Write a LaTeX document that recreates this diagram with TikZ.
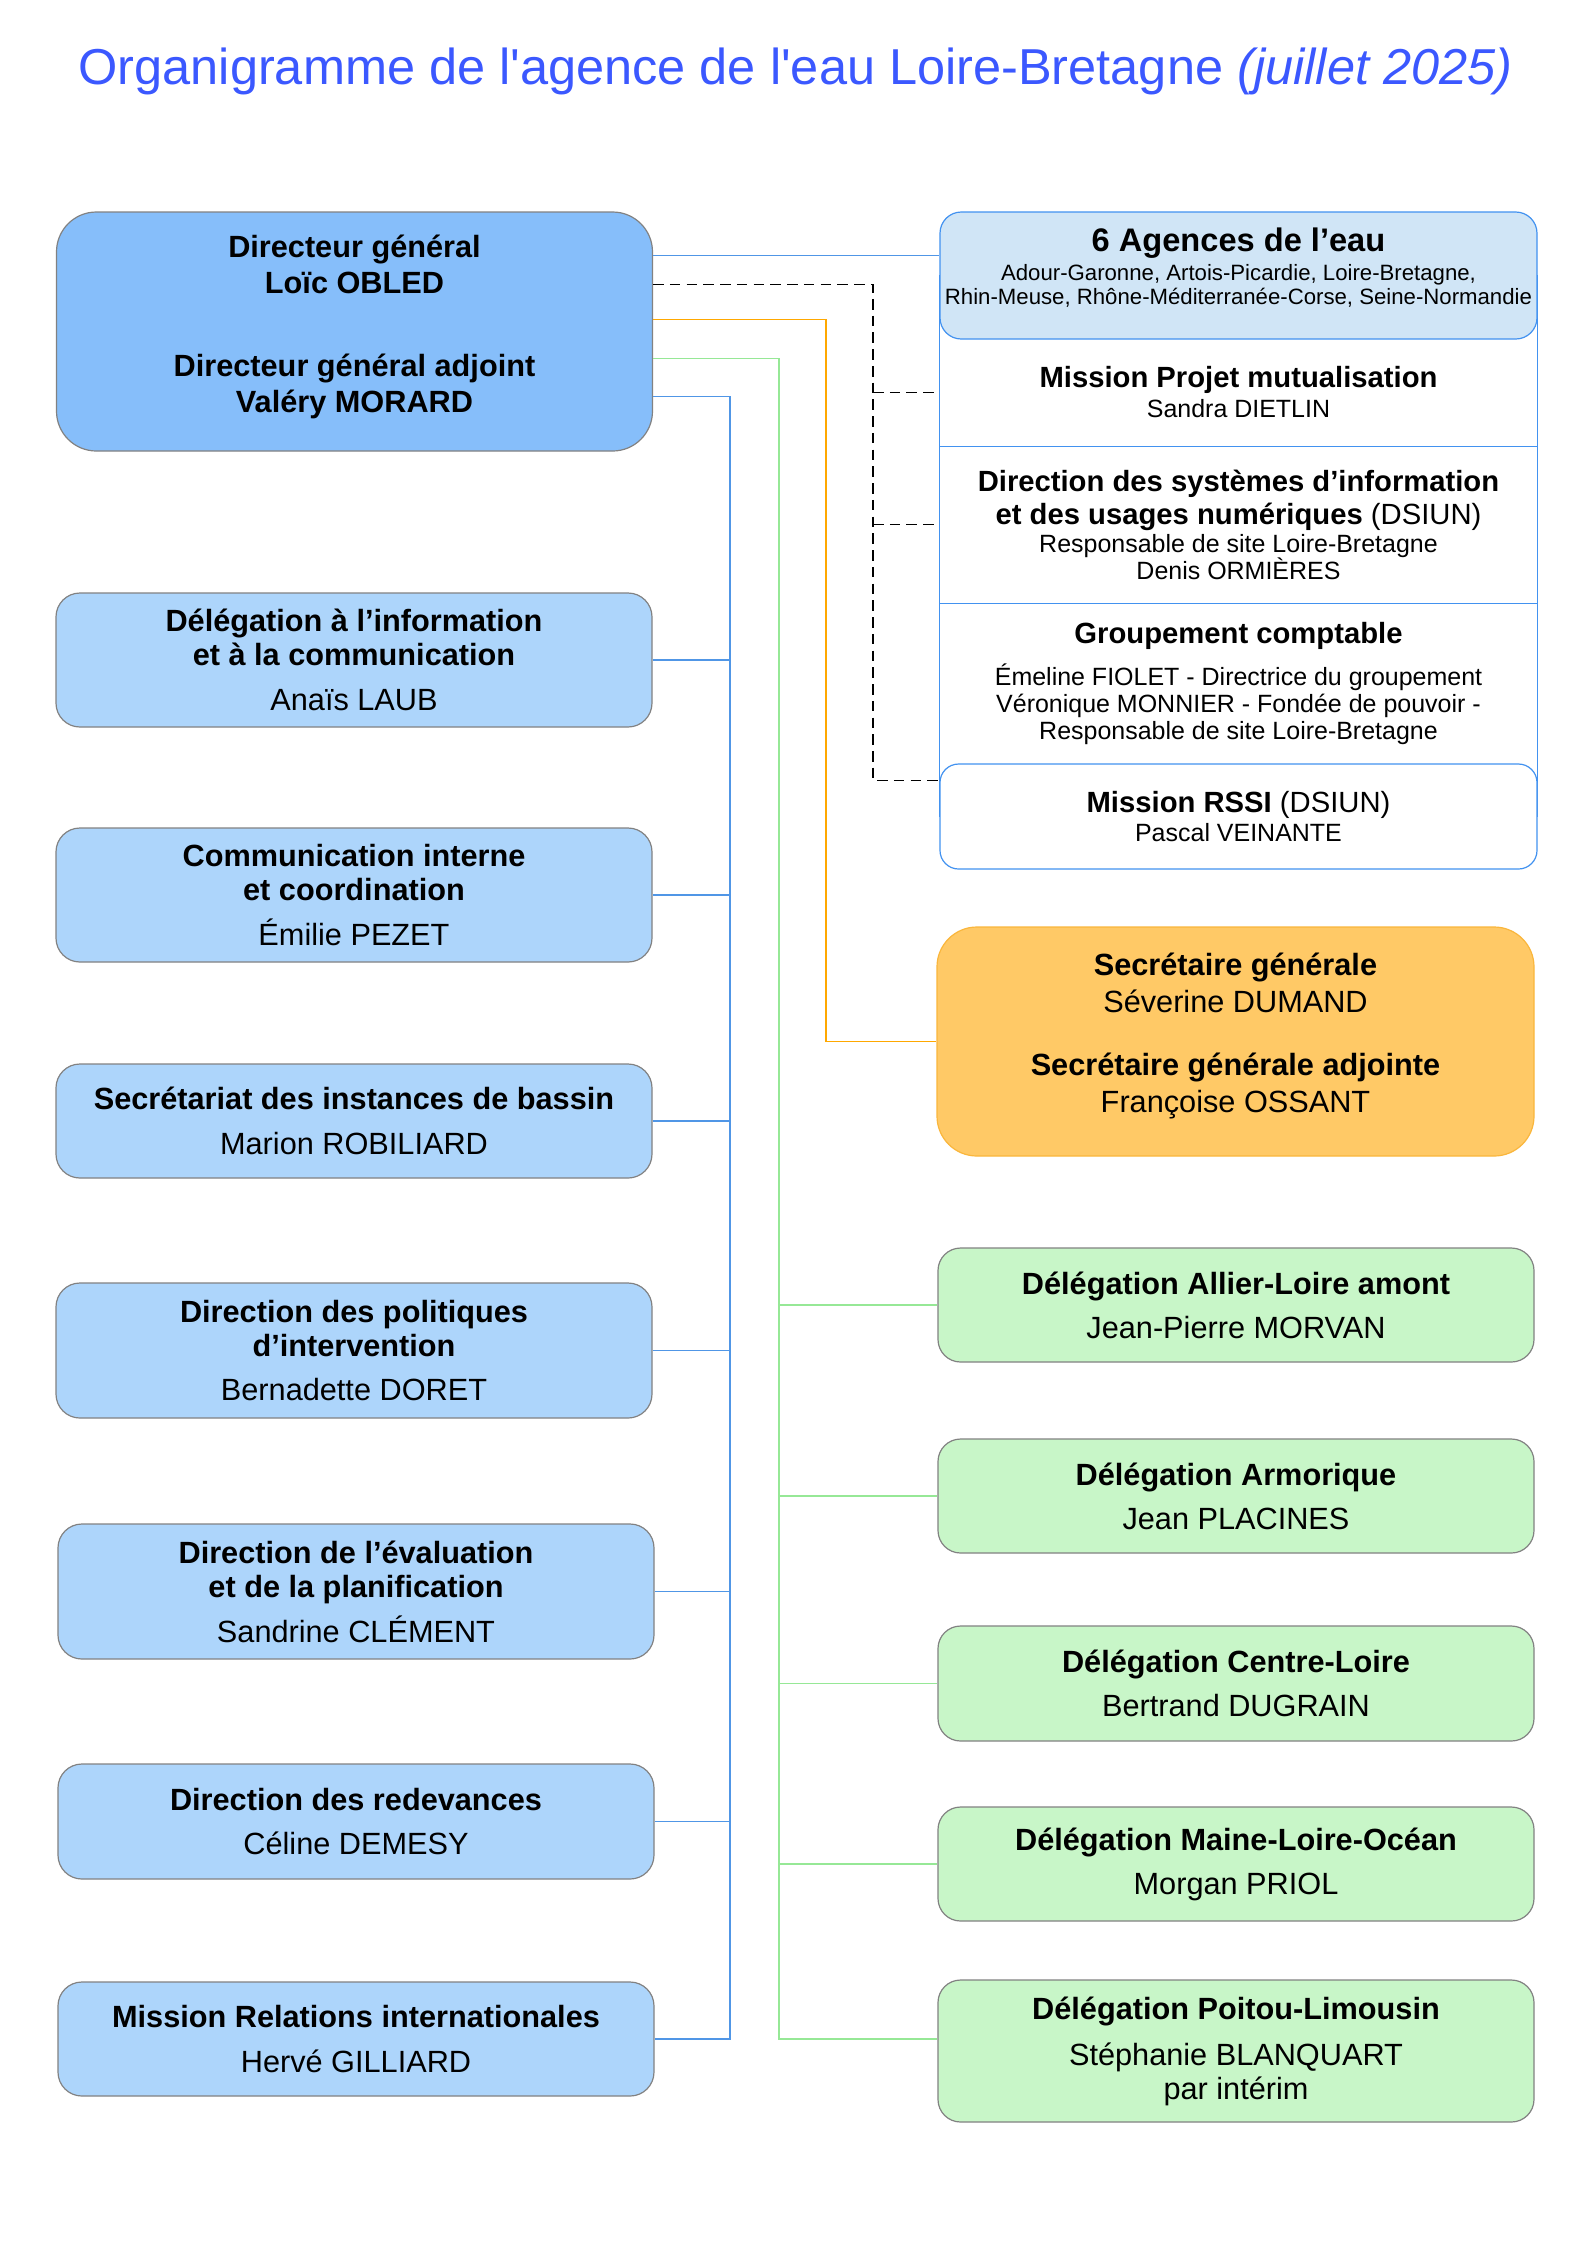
\documentclass[tikz,border=0pt]{standalone}
\usepackage{fontspec}
\setmainfont{Liberation Sans}
\newfontfamily\titlefont{Liberation Sans}
\usepackage{xcolor}
\usetikzlibrary{positioning, fit, backgrounds}

\definecolor{titleblue}{RGB}{59,88,255}
\definecolor{dgblue}{RGB}{134,190,250}
\definecolor{dirblue}{RGB}{173,213,251}
\definecolor{agfill}{RGB}{208,229,246}
\definecolor{frameblue}{RGB}{66,146,240}
\definecolor{linkblue}{RGB}{80,150,230}
\definecolor{sgfill}{RGB}{255,201,102}
\definecolor{sgdraw}{RGB}{250,182,60}
\definecolor{delgreen}{RGB}{200,246,200}
\definecolor{linkgreen}{RGB}{150,232,150}
\definecolor{linkorange}{RGB}{255,168,0}
\definecolor{boxgray}{RGB}{130,130,130}

\newcommand{\pxl}{0.37626pt}

\begin{document}
\begin{tikzpicture}[
		x=0.37626pt, y=-0.37626pt,
		unit/.style 2 args={
			rectangle,
			rounded corners=#1,
			fill=#2,
			draw=boxgray,
			line width=0.45pt,
			minimum width=596*\pxl,
			inner sep=0pt,
			align=center,
			font=\fontsize{11.55}{12.8}\selectfont},
		dir/.style={unit={9pt}{dirblue}},
		del/.style={unit={8.5pt}{delgreen}},
		sect/.style={rectangle, minimum width=597*\pxl, inner sep=0pt, align=center,
			font=\fontsize{11}{10.2}\selectfont},
		bluelink/.style={draw=linkblue, line width=0.55pt},
		greenlink/.style={draw=linkgreen, line width=0.55pt},
		orangelink/.style={draw=linkorange, line width=0.55pt},
		dashlink/.style={draw=black, line width=0.5pt, dash pattern=on 4pt off 2.3pt}
		]
		\useasboundingbox (0,0) rectangle (1588,2246);
		\node[anchor=base, text=titleblue, inner sep=0pt] (title) at (795.5, 84)
			{\titlefont\fontsize{19}{22}\selectfont Organigramme de l'agence de l'eau Loire-Bretagne \textit{(juillet 2025)}};

		% direction generale
		\node[unit={15pt}{dgblue}, minimum height=239*\pxl, text depth=5.8pt, font=\fontsize{11.55}{13.5}\selectfont\bfseries] (dg) at (354.5, 331.5)
			{Directeur général\\Loïc OBLED\\[17.7pt]Directeur général adjoint\\Valéry MORARD};

		% colonne de gauche
		\node[dir, minimum height=134*\pxl] (dil) at (354, 660) {\textbf{Délégation à l’information}\\\textbf{et à la communication}\\[4.1pt]Anaïs LAUB};
		\node[dir, minimum height=134*\pxl] (cic) at (354, 895) {\textbf{Communication interne}\\\textbf{et coordination}\\[4.1pt]Émilie PEZET};
		\node[dir, minimum height=114*\pxl] (sib) at (354, 1121) {\textbf{Secrétariat des instances de bassin}\\[4.1pt]Marion ROBILIARD};
		\node[dir, minimum height=135*\pxl] (dpi) at (354, 1350.5) {\textbf{Direction des politiques}\\\textbf{d’intervention}\\[4.1pt]Bernadette DORET};
		\node[dir, minimum height=135*\pxl] (dep) at (356, 1591.5) {\textbf{Direction de l’évaluation}\\\textbf{et de la planification}\\[4.1pt]Sandrine CLÉMENT};
		\node[dir, minimum height=115*\pxl] (dr) at (356, 1821.5) {\textbf{Direction des redevances}\\[4.1pt]Céline DEMESY};
		\node[dir, minimum height=114*\pxl] (mri) at (356, 2039) {\textbf{Mission Relations internationales}\\[4.1pt]Hervé GILLIARD};

		% bloc rattache
		\node[unit={8pt}{agfill}, draw=frameblue, minimum width=597*\pxl, minimum height=127*\pxl, text depth=7.2pt, font=\fontsize{8.35}{9}\selectfont] (ag) at (1238.5, 275.5)
			{{\fontsize{12.27}{13}\selectfont\bfseries 6 Agences de l’eau}\\[1.9pt]Adour-Garonne, Artois-Picardie, Loire-Bretagne,\\Rhin-Meuse, Rhône-Méditerranée-Corse, Seine-Normandie};
		\node[sect, minimum height=107*\pxl, font=\fontsize{11}{11.3}\selectfont] (mp) at (1238.5, 392.5)
			{\textbf{Mission Projet mutualisation}\\{\fontsize{9.4}{10}\selectfont Sandra DIETLIN}};
		\node[sect, minimum height=157*\pxl] (dsi) at (1238.5, 524.5)
			{\textbf{Direction des systèmes d’information}\\[1.4pt]\textbf{et des usages numériques} (DSIUN)\\{\fontsize{9.4}{10}\selectfont Responsable de site Loire-Bretagne}\\{\fontsize{9.4}{10}\selectfont Denis ORMIÈRES}};
		\node[sect, minimum height=161*\pxl] (gc) at (1238.5, 683.5)
			{\textbf{Groupement comptable}\\[4.6pt]{\fontsize{9.4}{10}\selectfont Émeline FIOLET - Directrice du groupement}\\{\fontsize{9.4}{10}\selectfont Véronique MONNIER - Fondée de pouvoir -}\\{\fontsize{9.4}{10}\selectfont Responsable de site Loire-Bretagne}};
		\node[unit={7pt}{white}, draw=frameblue, minimum width=597*\pxl, minimum height=105*\pxl, font=\fontsize{11}{10.9}\selectfont] (rssi) at (1238.5, 816.5)
			{\textbf{Mission RSSI} (DSIUN)\\{\fontsize{9.4}{10}\selectfont Pascal VEINANTE}};
		\draw[draw=frameblue, line width=0.45pt] (mp.south west) -- (mp.south east);
		\draw[draw=frameblue, line width=0.45pt] (dsi.south west) -- (dsi.south east);
		\begin{scope}[on background layer]
			\fill[white] (0,0) rectangle (1588,2246);
			\node[fit=(ag.west) (ag.east) (rssi.center), draw=frameblue, line width=0.45pt, inner sep=0pt] (frame) {};
		\end{scope}

		% secretariat general et delegations
		\node[unit={15pt}{sgfill}, draw=sgdraw, minimum width=597*\pxl, minimum height=229*\pxl, text depth=6.9pt, font=\fontsize{11.55}{13.9}\selectfont] (sg) at (1235.5, 1041.5)
			{\textbf{Secrétaire générale}\\Séverine DUMAND\\[9.8pt]\textbf{Secrétaire générale adjointe}\\Françoise OSSANT};
		\node[del, minimum height=114*\pxl] (ala) at (1236, 1305) {\textbf{Délégation Allier-Loire amont}\\[3.8pt]Jean-Pierre MORVAN};
		\node[del, minimum height=114*\pxl] (arm) at (1236, 1496) {\textbf{Délégation Armorique}\\[3.8pt]Jean PLACINES};
		\node[del, minimum height=115*\pxl] (cl) at (1236, 1683.5) {\textbf{Délégation Centre-Loire}\\[3.8pt]Bertrand DUGRAIN};
		\node[del, minimum height=114*\pxl] (mlo) at (1236, 1864) {\textbf{Délégation Maine-Loire-Océan}\\[3.8pt]Morgan PRIOL};
		\node[del, minimum height=142*\pxl] (pl) at (1236, 2051) {\textbf{Délégation Poitou-Limousin}\\[4.5pt]Stéphanie BLANQUART\\par intérim};

		% liaisons
		\path (dg.north east) ++(0,44) coordinate (dg1);
		\path (dg.north east) ++(0,73) coordinate (dg2);
		\path (dg.north east) ++(0,108) coordinate (dg3);
		\path (dg.north east) ++(0,147) coordinate (dg4);
		\path (dg.north east) ++(0,185) coordinate (dg5);
		\path (rssi.north west) ++(0,17) coordinate (rs1);
		\coordinate (bbus) at (730, 0);
		\coordinate (gbus) at (779, 0);
		\coordinate (obus) at (826, 0);
		\coordinate (dbus) at (873, 0);

		\draw[bluelink] (dg1) -- (dg1 -| ag.west);
		\draw[dashlink] (dg2) -| (dbus |- rs1) -- (rs1);
		\draw[dashlink] (dbus |- mp.west) -- (mp.west);
		\draw[dashlink] (dbus |- dsi.west) -- (dsi.west);
		\draw[orangelink] (dg3) -| (obus |- sg.west) -- (sg.west);
		\draw[greenlink] (dg4) -| (gbus |- mri.east) -- (pl.west |- mri.east);
		\foreach \n in {ala, arm, cl, mlo}
			\draw[greenlink] (gbus |- \n.west) -- (\n.west);
		\draw[bluelink] (dg5) -| (bbus |- mri.east) -- (mri.east);
		\foreach \n in {dil, cic, sib, dpi, dep, dr}
			\draw[bluelink] (\n.east) -- (\n.east -| bbus);
\end{tikzpicture}
\end{document}
